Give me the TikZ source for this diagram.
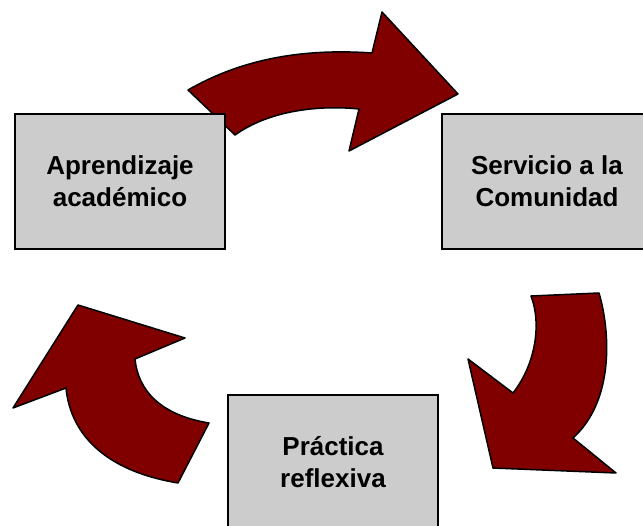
\documentclass[tikz,border=0pt]{standalone}
\usepackage{fontspec}
\setmainfont{Liberation Sans}
\begin{document}
\begin{tikzpicture}[
            x=1pt, y=-1pt,
            box/.style={rectangle, draw, line width=2pt, fill=gray!40, minimum width=210pt, minimum height=135pt, text centered, align=center, font=\bfseries\fontsize{26}{32}\selectfont},
            bigarrow/.style={draw, line width=1.5pt, line join=round, fill=red!50!black}
        ]
            \useasboundingbox (0,0) rectangle (643,526);

            % Arrow top
            \draw[bigarrow] (188,90) .. controls (240,60) and (300,48) .. (372,53)
                -- (382,12) -- (458,94) -- (349,151) -- (359,109)
                .. controls (320,105) and (270,110) .. (235,135) -- cycle;

            % Arrow right
            \draw[bigarrow] (531,296) -- (599,293) .. controls (610,330) and (615,400) .. (573,438)
                -- (616,473) -- (493,468) -- (468,359) -- (513,393)
                .. controls (535,365) and (542,325) .. (531,296) -- cycle;

            % Arrow left
            \draw[bigarrow] (209,423) -- (178,483) .. controls (100,470) and (70,430) .. (66,388)
                -- (13,408) -- (78,305) -- (185,338) -- (135,359)
                .. controls (138,390) and (160,415) .. (209,423) -- cycle;

            % Aprendizaje
            \node[box] (aprendizaje) at (120,181.5) {Aprendizaje\\académico};

            % Servicio
            \node[box] (servicio) at (547,181.5) {Servicio a la\\Comunidad};

            % Practica
            \node[box] (practica) at (333,462.5) {Práctica\\reflexiva};

        \end{tikzpicture}
\end{document}
